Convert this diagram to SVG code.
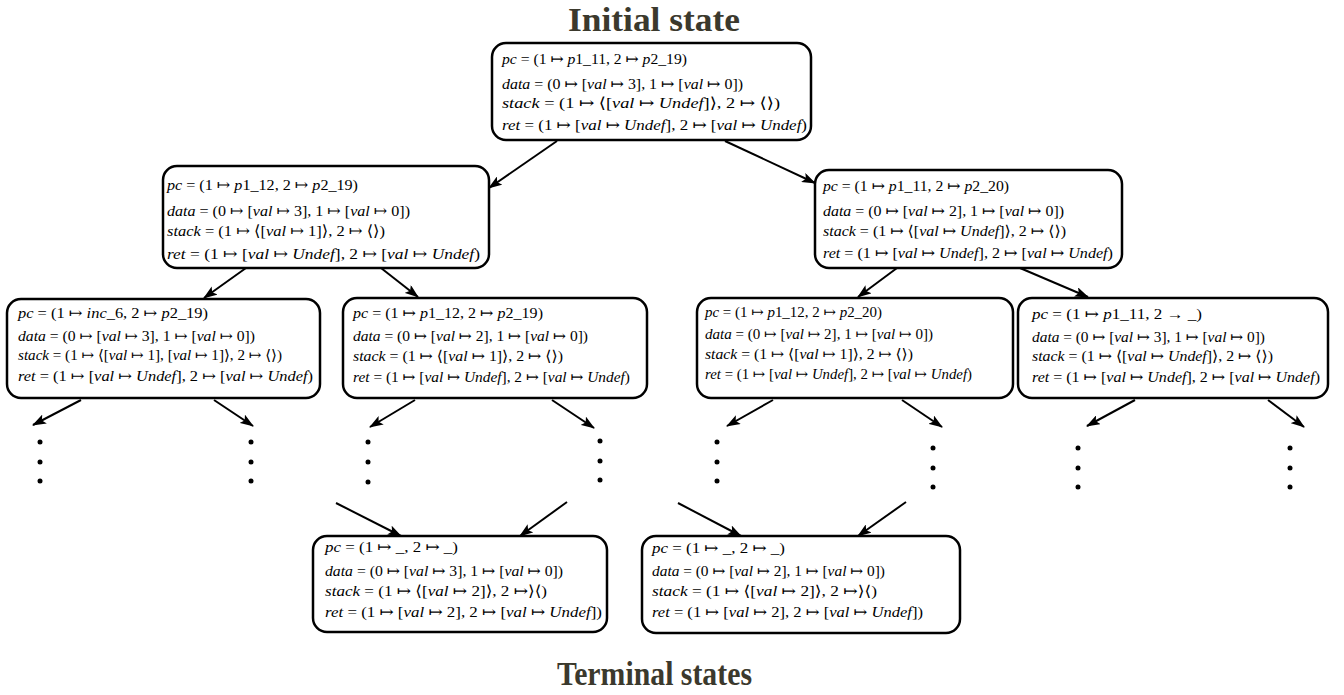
<svg xmlns="http://www.w3.org/2000/svg" width="1344" height="695" viewBox="0 0 1344 695">
<style>
.bg{fill:#fff}
.box{fill:#fff;stroke:#000;stroke-width:2.5}
.t{font-family:"Liberation Serif","DejaVu Serif",serif;font-size:15px;fill:#000}
.i{font-style:italic}
#n0 .t{font-size:15.1px}
#n1 .t{font-size:15.5px}
#n2 .t{font-size:15px}
#n3 .t{font-size:14.6px}
#n4 .t{font-size:14.9px}
#n5 .t{font-size:14.4px}
#n6 .t{font-size:14.9px}
#n7 .t{font-size:15.2px}
#n8 .t{font-size:14.9px}
.title{font-family:"Liberation Serif","DejaVu Serif",serif;font-size:33px;font-weight:bold;fill:#3b392d}
.arr{stroke:#000;stroke-width:2;fill:none;marker-end:url(#ah)}
.dot{fill:#000}
</style>
<defs>
<marker id="ah" viewBox="0 0 14 10" refX="13" refY="5" markerWidth="14" markerHeight="10" orient="auto" markerUnits="userSpaceOnUse">
<path d="M0,0 L14,5 L0,10 L3,5 z" fill="#000"/>
</marker>
</defs>
<rect class="bg" x="0" y="0" width="1344" height="695"/>

<text class="title" x="568" y="31" textLength="172" lengthAdjust="spacingAndGlyphs">Initial state</text>
<text class="title" x="557" y="685" textLength="195" lengthAdjust="spacingAndGlyphs">Terminal states</text>

<g id="connectors">
<line class="arr" x1="557" y1="141" x2="489" y2="188"/>
<line class="arr" x1="725" y1="141" x2="815" y2="183"/>
<line class="arr" x1="246" y1="268" x2="204" y2="298"/>
<line class="arr" x1="381" y1="268" x2="418" y2="297"/>
<line class="arr" x1="897" y1="268" x2="858" y2="297"/>
<line class="arr" x1="1020" y1="268" x2="1088" y2="297"/>
<line class="arr" x1="81" y1="400" x2="33" y2="425"/>
<line class="arr" x1="214" y1="400" x2="253" y2="426"/>
<line class="arr" x1="415" y1="400" x2="370" y2="427"/>
<line class="arr" x1="552" y1="400" x2="594" y2="428"/>
<line class="arr" x1="773" y1="400" x2="727" y2="426"/>
<line class="arr" x1="902" y1="400" x2="942" y2="427"/>
<line class="arr" x1="1135" y1="400" x2="1087" y2="426"/>
<line class="arr" x1="1268" y1="400" x2="1304" y2="427"/>
<line class="arr" x1="336" y1="503" x2="401" y2="536"/>
<line class="arr" x1="567" y1="502" x2="520" y2="536"/>
<line class="arr" x1="678" y1="503" x2="741" y2="536"/>
<line class="arr" x1="906" y1="502" x2="858" y2="536"/>
<g id="ellipses">
<circle class="dot" cx="40" cy="442" r="2.5"/><circle class="dot" cx="40" cy="462" r="2.5"/><circle class="dot" cx="40" cy="481" r="2.5"/>
<circle class="dot" cx="251" cy="442" r="2.5"/><circle class="dot" cx="251" cy="462" r="2.5"/><circle class="dot" cx="251" cy="481" r="2.5"/>
<circle class="dot" cx="368" cy="442" r="2.5"/><circle class="dot" cx="368" cy="462" r="2.5"/><circle class="dot" cx="368" cy="482" r="2.5"/>
<circle class="dot" cx="600" cy="441" r="2.5"/><circle class="dot" cx="600" cy="461" r="2.5"/><circle class="dot" cx="600" cy="480" r="2.5"/>
<circle class="dot" cx="717" cy="442" r="2.5"/><circle class="dot" cx="717" cy="462" r="2.5"/><circle class="dot" cx="717" cy="481" r="2.5"/>
<circle class="dot" cx="933" cy="448" r="2.5"/><circle class="dot" cx="933" cy="468" r="2.5"/><circle class="dot" cx="933" cy="487" r="2.5"/>
<circle class="dot" cx="1078" cy="448" r="2.5"/><circle class="dot" cx="1078" cy="468" r="2.5"/><circle class="dot" cx="1078" cy="487" r="2.5"/>
<circle class="dot" cx="1290" cy="448" r="2.5"/><circle class="dot" cx="1290" cy="468" r="2.5"/><circle class="dot" cx="1290" cy="487" r="2.5"/>
</g>
</g>

<g id="n0">
<rect class="box" x="492" y="43" width="319" height="97" rx="14"/>
<text class="t" x="502" y="64" textLength="185" lengthAdjust="spacingAndGlyphs"><tspan class="i">pc</tspan> = (1 ↦ <tspan class="i">p</tspan>1_11, 2 ↦ <tspan class="i">p</tspan>2_19)</text>
<text class="t" x="502" y="89" textLength="241" lengthAdjust="spacingAndGlyphs"><tspan class="i">data</tspan> = (0 ↦ [<tspan class="i">val</tspan> ↦ 3], 1 ↦ [<tspan class="i">val</tspan> ↦ 0])</text>
<text class="t" x="502" y="108" textLength="278" lengthAdjust="spacingAndGlyphs"><tspan class="i">stack</tspan> = (1 ↦ ⟨[<tspan class="i">val</tspan> ↦ <tspan class="i">Undef</tspan>]⟩, 2 ↦ ⟨⟩)</text>
<text class="t" x="502" y="130" textLength="305" lengthAdjust="spacingAndGlyphs"><tspan class="i">ret</tspan> = (1 ↦ [<tspan class="i">val</tspan> ↦ <tspan class="i">Undef</tspan>], 2 ↦ [<tspan class="i">val</tspan> ↦ <tspan class="i">Undef</tspan>)</text>
</g>

<g id="n1">
<rect class="box" x="163" y="166" width="326" height="102" rx="14"/>
<text class="t" x="167" y="190" textLength="191" lengthAdjust="spacingAndGlyphs"><tspan class="i">pc</tspan> = (1 ↦ <tspan class="i">p</tspan>1_12, 2 ↦ <tspan class="i">p</tspan>2_19)</text>
<text class="t" x="167" y="216" textLength="243" lengthAdjust="spacingAndGlyphs"><tspan class="i">data</tspan> = (0 ↦ [<tspan class="i">val</tspan> ↦ 3], 1 ↦ [<tspan class="i">val</tspan> ↦ 0])</text>
<text class="t" x="167" y="236" textLength="218" lengthAdjust="spacingAndGlyphs"><tspan class="i">stack</tspan> = (1 ↦ ⟨[<tspan class="i">val</tspan> ↦ 1]⟩, 2 ↦ ⟨⟩)</text>
<text class="t" x="167" y="259" textLength="313" lengthAdjust="spacingAndGlyphs"><tspan class="i">ret</tspan> = (1 ↦ [<tspan class="i">val</tspan> ↦ <tspan class="i">Undef</tspan>], 2 ↦ [<tspan class="i">val</tspan> ↦ <tspan class="i">Undef</tspan>)</text>
</g>

<g id="n2">
<rect class="box" x="815" y="170" width="307" height="98" rx="14"/>
<text class="t" x="823" y="191" textLength="186" lengthAdjust="spacingAndGlyphs"><tspan class="i">pc</tspan> = (1 ↦ <tspan class="i">p</tspan>1_11, 2 ↦ <tspan class="i">p</tspan>2_20)</text>
<text class="t" x="823" y="216" textLength="241" lengthAdjust="spacingAndGlyphs"><tspan class="i">data</tspan> = (0 ↦ [<tspan class="i">val</tspan> ↦ 2], 1 ↦ [<tspan class="i">val</tspan> ↦ 0])</text>
<text class="t" x="823" y="236" textLength="243" lengthAdjust="spacingAndGlyphs"><tspan class="i">stack</tspan> = (1 ↦ ⟨[<tspan class="i">val</tspan> ↦ <tspan class="i">Undef</tspan>]⟩, 2 ↦ ⟨⟩)</text>
<text class="t" x="823" y="258" textLength="290" lengthAdjust="spacingAndGlyphs"><tspan class="i">ret</tspan> = (1 ↦ [<tspan class="i">val</tspan> ↦ <tspan class="i">Undef</tspan>], 2 ↦ [<tspan class="i">val</tspan> ↦ <tspan class="i">Undef</tspan>)</text>
</g>

<g id="n3">
<rect class="box" x="7" y="299" width="313" height="99" rx="14"/>
<text class="t" x="18" y="318" textLength="190" lengthAdjust="spacingAndGlyphs"><tspan class="i">pc</tspan> = (1 ↦ <tspan class="i">inc</tspan>_6, 2 ↦ <tspan class="i">p</tspan>2_19)</text>
<text class="t" x="18" y="341" textLength="237" lengthAdjust="spacingAndGlyphs"><tspan class="i">data</tspan> = (0 ↦ [<tspan class="i">val</tspan> ↦ 3], 1 ↦ [<tspan class="i">val</tspan> ↦ 0])</text>
<text class="t" x="18" y="360" textLength="264" lengthAdjust="spacingAndGlyphs"><tspan class="i">stack</tspan> = (1 ↦ ⟨[<tspan class="i">val</tspan> ↦ 1], [<tspan class="i">val</tspan> ↦ 1]⟩, 2 ↦ ⟨⟩)</text>
<text class="t" x="18" y="381" textLength="295" lengthAdjust="spacingAndGlyphs"><tspan class="i">ret</tspan> = (1 ↦ [<tspan class="i">val</tspan> ↦ <tspan class="i">Undef</tspan>], 2 ↦ [<tspan class="i">val</tspan> ↦ <tspan class="i">Undef</tspan>)</text>
</g>

<g id="n4">
<rect class="box" x="343" y="298" width="304" height="100" rx="14"/>
<text class="t" x="353" y="318" textLength="190" lengthAdjust="spacingAndGlyphs"><tspan class="i">pc</tspan> = (1 ↦ <tspan class="i">p</tspan>1_12, 2 ↦ <tspan class="i">p</tspan>2_19)</text>
<text class="t" x="353" y="341" textLength="235" lengthAdjust="spacingAndGlyphs"><tspan class="i">data</tspan> = (0 ↦ [<tspan class="i">val</tspan> ↦ 2], 1 ↦ [<tspan class="i">val</tspan> ↦ 0])</text>
<text class="t" x="353" y="361" textLength="210" lengthAdjust="spacingAndGlyphs"><tspan class="i">stack</tspan> = (1 ↦ ⟨[<tspan class="i">val</tspan> ↦ 1]⟩, 2 ↦ ⟨⟩)</text>
<text class="t" x="353" y="382" textLength="277" lengthAdjust="spacingAndGlyphs"><tspan class="i">ret</tspan> = (1 ↦ [<tspan class="i">val</tspan> ↦ <tspan class="i">Undef</tspan>], 2 ↦ [<tspan class="i">val</tspan> ↦ <tspan class="i">Undef</tspan>)</text>
</g>

<g id="n5">
<rect class="box" x="697" y="298" width="316" height="100" rx="14"/>
<text class="t" x="705" y="317" textLength="177" lengthAdjust="spacingAndGlyphs"><tspan class="i">pc</tspan> = (1 ↦ <tspan class="i">p</tspan>1_12, 2 ↦ <tspan class="i">p</tspan>2_20)</text>
<text class="t" x="705" y="339" textLength="228" lengthAdjust="spacingAndGlyphs"><tspan class="i">data</tspan> = (0 ↦ [<tspan class="i">val</tspan> ↦ 2], 1 ↦ [<tspan class="i">val</tspan> ↦ 0])</text>
<text class="t" x="705" y="359" textLength="208" lengthAdjust="spacingAndGlyphs"><tspan class="i">stack</tspan> = (1 ↦ ⟨[<tspan class="i">val</tspan> ↦ 1]⟩, 2 ↦ ⟨⟩)</text>
<text class="t" x="705" y="379" textLength="267" lengthAdjust="spacingAndGlyphs"><tspan class="i">ret</tspan> = (1 ↦ [<tspan class="i">val</tspan> ↦ <tspan class="i">Undef</tspan>], 2 ↦ [<tspan class="i">val</tspan> ↦ <tspan class="i">Undef</tspan>)</text>
</g>

<g id="n6">
<rect class="box" x="1018" y="298" width="310" height="100" rx="14"/>
<text class="t" x="1032" y="319" textLength="170" lengthAdjust="spacingAndGlyphs"><tspan class="i">pc</tspan> = (1 ↦ <tspan class="i">p</tspan>1_11, 2 → _)</text>
<text class="t" x="1032" y="342" textLength="233" lengthAdjust="spacingAndGlyphs"><tspan class="i">data</tspan> = (0 ↦ [<tspan class="i">val</tspan> ↦ 3], 1 ↦ [<tspan class="i">val</tspan> ↦ 0])</text>
<text class="t" x="1032" y="361" textLength="241" lengthAdjust="spacingAndGlyphs"><tspan class="i">stack</tspan> = (1 ↦ ⟨[<tspan class="i">val</tspan> ↦ <tspan class="i">Undef</tspan>]⟩, 2 ↦ ⟨⟩)</text>
<text class="t" x="1032" y="382" textLength="288" lengthAdjust="spacingAndGlyphs"><tspan class="i">ret</tspan> = (1 ↦ [<tspan class="i">val</tspan> ↦ <tspan class="i">Undef</tspan>], 2 ↦ [<tspan class="i">val</tspan> ↦ <tspan class="i">Undef</tspan>)</text>
</g>

<g id="n7">
<rect class="box" x="313" y="536" width="294" height="96" rx="14"/>
<text class="t" x="325" y="552" textLength="133" lengthAdjust="spacingAndGlyphs"><tspan class="i">pc</tspan> = (1 ↦ _, 2 ↦ _)</text>
<text class="t" x="325" y="576" textLength="238" lengthAdjust="spacingAndGlyphs"><tspan class="i">data</tspan> = (0 ↦ [<tspan class="i">val</tspan> ↦ 3], 1 ↦ [<tspan class="i">val</tspan> ↦ 0])</text>
<text class="t" x="325" y="596" textLength="222" lengthAdjust="spacingAndGlyphs"><tspan class="i">stack</tspan> = (1 ↦ ⟨[<tspan class="i">val</tspan> ↦ 2]⟩, 2 ↦⟩⟨)</text>
<text class="t" x="325" y="617" textLength="277" lengthAdjust="spacingAndGlyphs"><tspan class="i">ret</tspan> = (1 ↦ [<tspan class="i">val</tspan> ↦ 2], 2 ↦ [<tspan class="i">val</tspan> ↦ <tspan class="i">Undef</tspan>])</text>
</g>

<g id="n8">
<rect class="box" x="642" y="536" width="318" height="97" rx="14"/>
<text class="t" x="652" y="553" textLength="133" lengthAdjust="spacingAndGlyphs"><tspan class="i">pc</tspan> = (1 ↦ _, 2 ↦ _)</text>
<text class="t" x="652" y="576" textLength="233" lengthAdjust="spacingAndGlyphs"><tspan class="i">data</tspan> = (0 ↦ [<tspan class="i">val</tspan> ↦ 2], 1 ↦ [<tspan class="i">val</tspan> ↦ 0])</text>
<text class="t" x="652" y="596" textLength="225" lengthAdjust="spacingAndGlyphs"><tspan class="i">stack</tspan> = (1 ↦ ⟨[<tspan class="i">val</tspan> ↦ 2]⟩, 2 ↦⟩⟨)</text>
<text class="t" x="652" y="617" textLength="271" lengthAdjust="spacingAndGlyphs"><tspan class="i">ret</tspan> = (1 ↦ [<tspan class="i">val</tspan> ↦ 2], 2 ↦ [<tspan class="i">val</tspan> ↦ <tspan class="i">Undef</tspan>])</text>
</g>
</svg>
